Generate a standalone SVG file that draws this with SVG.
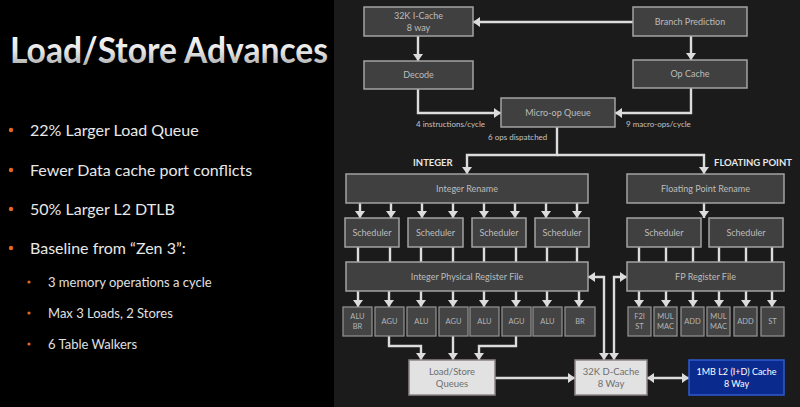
<svg xmlns="http://www.w3.org/2000/svg" width="800" height="407" viewBox="0 0 800 407">
<defs>
  <linearGradient id="tg" x1="0" y1="0" x2="0" y2="1">
    <stop offset="0" stop-color="#ffffff"/>
    <stop offset="0.55" stop-color="#e6e6e6"/>
    <stop offset="1" stop-color="#9a9a9a"/>
  </linearGradient>
  <marker id="ah" markerUnits="userSpaceOnUse" markerWidth="8" markerHeight="10" refX="7" refY="5" orient="auto-start-reverse">
    <path d="M0,0 L7,5 L0,10 z" fill="#dcdcdc"/>
  </marker>
</defs>
<style>
  .box { fill: #404040; stroke: #a3a3a3; stroke-width: 1.5; }
  .unit { fill: #444444; stroke: #8e8e8e; stroke-width: 1.3; }
  .lbl { font-family: Lato, "Open Sans", sans-serif; font-size: 9px; fill: #bcbcbc; text-anchor: middle; }
  .ulbl { font-family: Lato, "Open Sans", sans-serif; font-size: 7.5px; fill: #b4b4b4; text-anchor: middle; }
  .note { font-family: Lato, "Open Sans", sans-serif; font-size: 8px; fill: #c4c4c4; }
  .hdr { font-family: Lato, "Open Sans", sans-serif; font-size: 9.5px; font-weight: bold; fill: #e6e6e6; }
  .c { fill: none; stroke: #dcdcdc; stroke-width: 2.4; }
  .ca { fill: none; stroke: #dcdcdc; stroke-width: 2.4; marker-end: url(#ah); }
  .bul { font-family: Lato, "Open Sans", sans-serif; font-size: 16px; fill: #e8e8e8; }
  .sub { font-family: Lato, "Open Sans", sans-serif; font-size: 13px; fill: #e0e0e0; }
  .dot { fill: #e8651e; }
  .mem { fill: #e2e2e2; stroke: #8c8484; stroke-width: 1.5; }
  .mlbl { font-family: Lato, "Open Sans", sans-serif; font-size: 9.5px; fill: #6e6e6e; text-anchor: middle; }
</style>
<rect x="0" y="0" width="800" height="407" fill="#000000"/>
<rect x="334" y="0" width="466" height="407" fill="#1b1b1b"/>

<!-- Left panel text -->
<g id="title">
  <text x="11" y="64" font-family="Lato, 'Open Sans', sans-serif" font-size="36" font-weight="bold" fill="#000" opacity="0.6" textLength="318" lengthAdjust="spacingAndGlyphs">Load/Store Advances</text>
  <text x="10" y="63" font-family="Lato, 'Open Sans', sans-serif" font-size="36" font-weight="bold" fill="url(#tg)" textLength="318" lengthAdjust="spacingAndGlyphs">Load/Store Advances</text>
</g>
<g id="bullets">
  <circle class="dot" cx="11" cy="130" r="2.2"/>
  <text class="bul" x="30" y="136">22% Larger Load Queue</text>
  <circle class="dot" cx="11" cy="170" r="2.2"/>
  <text class="bul" x="30" y="176">Fewer Data cache port conflicts</text>
  <circle class="dot" cx="11" cy="209" r="2.2"/>
  <text class="bul" x="30" y="215">50% Larger L2 DTLB</text>
  <circle class="dot" cx="11" cy="248" r="2.2"/>
  <text class="bul" x="30" y="254">Baseline from “Zen 3”:</text>
  <circle class="dot" cx="29" cy="282" r="1.6"/>
  <text class="sub" x="48" y="287">3 memory operations a cycle</text>
  <circle class="dot" cx="29" cy="313" r="1.6"/>
  <text class="sub" x="48" y="318">Max 3 Loads, 2 Stores</text>
  <circle class="dot" cx="29" cy="344" r="1.6"/>
  <text class="sub" x="48" y="349">6 Table Walkers</text>
</g>

<!-- Connectors -->
<g id="connectors">
  <path class="ca" d="M633,22 H473"/>
  <path class="ca" d="M418,36 V61"/>
  <path class="ca" d="M691,36 V60"/>
  <path class="ca" d="M418,89 V113 H501"/>
  <path class="ca" d="M691,88 V113 H615"/>
  <path class="ca" d="M557,127 V155 H467 V174"/>
  <path class="ca" d="M557,155 H704 V174"/>
  <path class="ca" d="M360,203 V218"/>
  <path class="ca" d="M391,203 V218"/>
  <path class="ca" d="M422,203 V218"/>
  <path class="ca" d="M453,203 V218"/>
  <path class="ca" d="M484,203 V218"/>
  <path class="ca" d="M515,203 V218"/>
  <path class="ca" d="M546,203 V218"/>
  <path class="ca" d="M577,203 V218"/>
  <path class="ca" d="M704,203 V218"/>
  <path class="c" d="M358,247 V262 M390,247 V262 M421,247 V262 M453,247 V262 M484,247 V262 M516,247 V262 M547,247 V262 M577,247 V262"/>
  <path class="c" d="M639,247 V262 M666,247 V262 M693,247 V262 M719,247 V262 M746,247 V262 M772,247 V262"/>
  <path class="ca" d="M358,291 V307"/>
  <path class="ca" d="M389,291 V307"/>
  <path class="ca" d="M421,291 V307"/>
  <path class="ca" d="M453,291 V307"/>
  <path class="ca" d="M484,291 V307"/>
  <path class="ca" d="M516,291 V307"/>
  <path class="ca" d="M547,291 V307"/>
  <path class="ca" d="M579,291 V307"/>
  <path class="ca" d="M639,291 V307"/>
  <path class="ca" d="M666,291 V307"/>
  <path class="ca" d="M693,291 V307"/>
  <path class="ca" d="M719,291 V307"/>
  <path class="ca" d="M746,291 V307"/>
  <path class="ca" d="M772,291 V307"/>
  <path class="ca" d="M389,336 V346 H421 V360"/>
  <path class="ca" d="M453,336 V360"/>
  <path class="ca" d="M516,336 V346 H479 V360"/>
  <path class="ca" d="M495,378 H575"/>
  <path class="ca" d="M647,378 H689" marker-start="url(#ah)"/>
  <path class="ca" d="M588,277 H604 V360" marker-start="url(#ah)"/>
  <path class="ca" d="M627,277 H614 V360" marker-start="url(#ah)"/>
</g>

<!-- Front end -->
<g id="icache"><rect class="box" x="364" y="7" width="109" height="29"/><text class="lbl" x="418.5" y="19">32K I-Cache</text><text class="lbl" x="418.5" y="31">8 way</text></g>
<g id="branch"><rect class="box" x="633" y="7" width="114" height="29"/><text class="lbl" x="690" y="25">Branch Prediction</text></g>
<g id="decode"><rect class="box" x="364" y="61" width="109" height="28"/><text class="lbl" x="418.5" y="78">Decode</text></g>
<g id="opcache"><rect class="box" x="633" y="60" width="114" height="28"/><text class="lbl" x="690" y="77">Op Cache</text></g>
<g id="uopq"><rect class="box" x="501" y="98" width="114" height="29"/><text class="lbl" x="558" y="116">Micro-op Queue</text></g>

<g id="labels">
  <text class="note" x="416" y="127">4 instructions/cycle</text>
  <text class="note" x="626" y="127">9 macro-ops/cycle</text>
  <text class="note" x="488" y="140">6 ops dispatched</text>
  <text class="hdr" x="413" y="166">INTEGER</text>
  <text class="hdr" x="714" y="166">FLOATING POINT</text>
</g>

<!-- Rename -->
<g id="int-rename"><rect class="box" x="346" y="174" width="242" height="29"/><text class="lbl" x="467" y="192">Integer Rename</text></g>
<g id="fp-rename"><rect class="box" x="627" y="174" width="157" height="29"/><text class="lbl" x="705.5" y="192">Floating Point Rename</text></g>

<!-- Schedulers -->
<g id="sched1"><rect class="box" x="345" y="218" width="54" height="29"/><text class="lbl" x="372" y="235.5">Scheduler</text></g>
<g id="sched2"><rect class="box" x="408" y="218" width="55" height="29"/><text class="lbl" x="435.5" y="235.5">Scheduler</text></g>
<g id="sched3"><rect class="box" x="472" y="218" width="54" height="29"/><text class="lbl" x="499" y="235.5">Scheduler</text></g>
<g id="sched4"><rect class="box" x="535" y="218" width="54" height="29"/><text class="lbl" x="562" y="235.5">Scheduler</text></g>
<g id="fpsched1"><rect class="box" x="627" y="218" width="74" height="29"/><text class="lbl" x="664" y="235.5">Scheduler</text></g>
<g id="fpsched2"><rect class="box" x="709" y="218" width="74" height="29"/><text class="lbl" x="746" y="235.5">Scheduler</text></g>

<!-- Register files -->
<g id="int-prf"><rect class="box" x="346" y="262" width="242" height="29"/><text class="lbl" x="467" y="280">Integer Physical Register File</text></g>
<g id="fp-prf"><rect class="box" x="627" y="262" width="157" height="29"/><text class="lbl" x="705.5" y="280">FP Register File</text></g>

<!-- Integer units -->
<g id="u-alubr"><rect class="unit" x="343" y="307" width="29" height="29"/><text class="ulbl" x="357.5" y="319">ALU</text><text class="ulbl" x="357.5" y="329">BR</text></g>
<g id="u-agu1"><rect class="unit" x="375" y="307" width="29" height="29"/><text class="ulbl" x="389.5" y="324">AGU</text></g>
<g id="u-alu1"><rect class="unit" x="407" y="307" width="29" height="29"/><text class="ulbl" x="421.5" y="324">ALU</text></g>
<g id="u-agu2"><rect class="unit" x="439" y="307" width="29" height="29"/><text class="ulbl" x="453.5" y="324">AGU</text></g>
<g id="u-alu2"><rect class="unit" x="470" y="307" width="29" height="29"/><text class="ulbl" x="484.5" y="324">ALU</text></g>
<g id="u-agu3"><rect class="unit" x="502" y="307" width="29" height="29"/><text class="ulbl" x="516.5" y="324">AGU</text></g>
<g id="u-alu3"><rect class="unit" x="533" y="307" width="29" height="29"/><text class="ulbl" x="547.5" y="324">ALU</text></g>
<g id="u-br"><rect class="unit" x="565" y="307" width="30" height="29"/><text class="ulbl" x="580" y="324">BR</text></g>

<!-- FP units -->
<g id="f-f2ist"><rect class="unit" x="628" y="307" width="23" height="29"/><text class="ulbl" x="639.5" y="319">F2I</text><text class="ulbl" x="639.5" y="329">ST</text></g>
<g id="f-mul1"><rect class="unit" x="654" y="307" width="23" height="29"/><text class="ulbl" x="665.5" y="319">MUL</text><text class="ulbl" x="665.5" y="329">MAC</text></g>
<g id="f-add1"><rect class="unit" x="681" y="307" width="23" height="29"/><text class="ulbl" x="692.5" y="324">ADD</text></g>
<g id="f-mul2"><rect class="unit" x="707" y="307" width="23" height="29"/><text class="ulbl" x="718.5" y="319">MUL</text><text class="ulbl" x="718.5" y="329">MAC</text></g>
<g id="f-add2"><rect class="unit" x="734" y="307" width="23" height="29"/><text class="ulbl" x="745.5" y="324">ADD</text></g>
<g id="f-st"><rect class="unit" x="761" y="307" width="23" height="29"/><text class="ulbl" x="772.5" y="324">ST</text></g>

<!-- Memory -->
<g id="lsq"><rect class="mem" x="409" y="360" width="86" height="35"/><text class="mlbl" x="452" y="375">Load/Store</text><text class="mlbl" x="452" y="387">Queues</text></g>
<g id="dcache"><rect class="mem" x="575" y="360" width="72" height="35"/><text class="mlbl" x="611" y="375">32K D-Cache</text><text class="mlbl" x="611" y="387">8 Way</text></g>
<g id="l2"><rect x="689" y="360" width="95" height="35" fill="#0b2a8e" stroke="#2f5bd0" stroke-width="1.5"/><text class="lbl" x="736.5" y="375" style="fill:#ffffff">1MB L2 (I+D) Cache</text><text class="lbl" x="736.5" y="387" style="fill:#ffffff">8 Way</text></g>
</svg>
